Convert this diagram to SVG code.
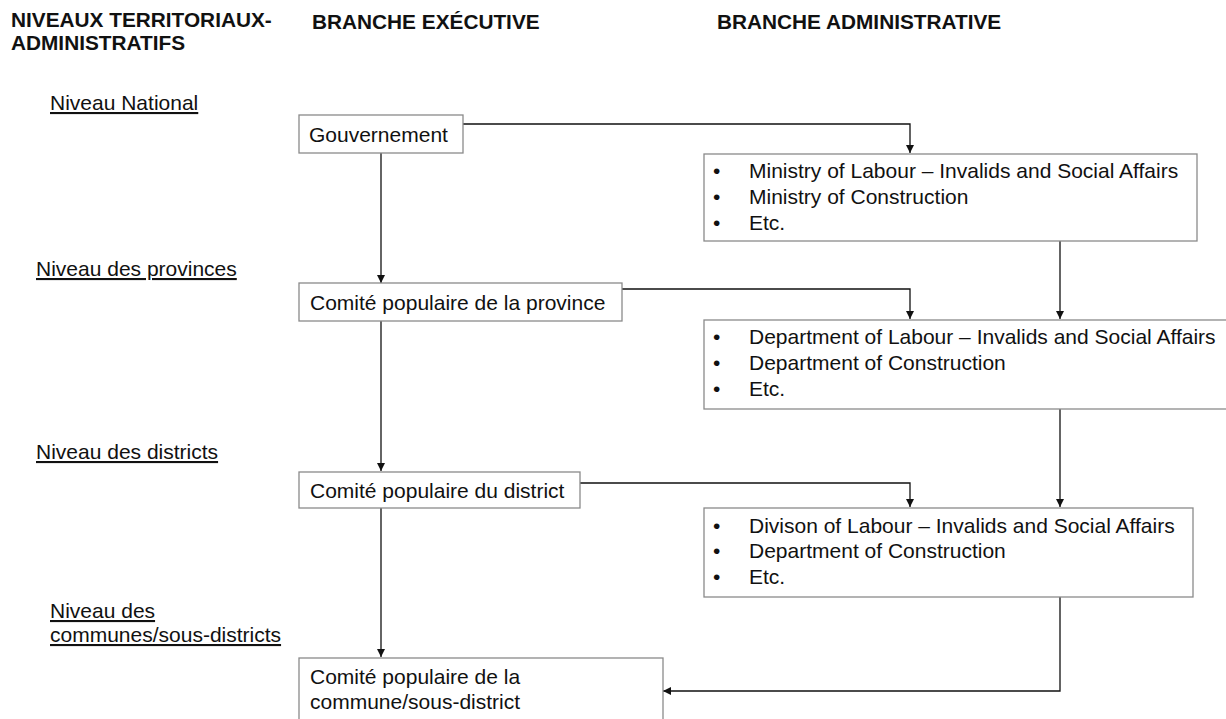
<svg xmlns="http://www.w3.org/2000/svg" width="1226" height="719" viewBox="0 0 1226 719">
<defs>
<style>
text{font-family:"Liberation Sans",Arial,sans-serif;fill:#111;}
.h{font-size:20.8px;font-weight:bold;}
.t{font-size:21px;}
.u{text-decoration:underline;}
.box{fill:#fff;stroke:#8a8a8a;stroke-width:1.3;}
.c{fill:none;stroke:#111;stroke-width:1.3;}
</style>
<marker id="ah" viewBox="0 0 10 10" refX="10" refY="5" markerWidth="8" markerHeight="8" markerUnits="userSpaceOnUse" orient="auto">
<path d="M0,0 L10,5 L0,10 z" fill="#111"/>
</marker>
</defs>
<rect width="1226" height="719" fill="#fff"/>
<g id="headers">
<text class="h" x="11" y="27">NIVEAUX TERRITORIAUX-</text>
<text class="h" x="11" y="50">ADMINISTRATIFS</text>
<text class="h" x="312" y="29">BRANCHE EXÉCUTIVE</text>
<text class="h" x="717" y="29">BRANCHE ADMINISTRATIVE</text>
</g>
<g id="levels">
<text class="t u" x="50" y="110">Niveau National</text>
<text class="t u" x="36" y="276">Niveau des provinces</text>
<text class="t u" x="36" y="459">Niveau des districts</text>
<text class="t u" x="50" y="618">Niveau des</text>
<text class="t u" x="50" y="642">communes/sous-districts</text>
</g>
<g id="connectors">
<path class="c" d="M463,124 H910 V153" marker-end="url(#ah)"/>
<path class="c" d="M381,153 V283" marker-end="url(#ah)"/>
<path class="c" d="M622,289 H910 V319" marker-end="url(#ah)"/>
<path class="c" d="M1060,241 V319" marker-end="url(#ah)"/>
<path class="c" d="M381,321 V471" marker-end="url(#ah)"/>
<path class="c" d="M580,483 H910 V507" marker-end="url(#ah)"/>
<path class="c" d="M1060,409 V507" marker-end="url(#ah)"/>
<path class="c" d="M381,508 V657" marker-end="url(#ah)"/>
<path class="c" d="M1060,597 V691 H663" marker-end="url(#ah)"/>
</g>
<g id="gouvernement">
<rect class="box" x="299" y="115" width="164" height="38"/>
<text class="t" x="309" y="142">Gouvernement</text>
</g>
<g id="ministry">
<rect class="box" x="704" y="154" width="493" height="87"/>
<text class="t" x="713" y="178">•</text>
<text class="t" x="749" y="178">Ministry of Labour – Invalids and Social Affairs</text>
<text class="t" x="713" y="204">•</text>
<text class="t" x="749" y="204">Ministry of Construction</text>
<text class="t" x="713" y="230">•</text>
<text class="t" x="749" y="230">Etc.</text>
</g>
<g id="province">
<rect class="box" x="299" y="283" width="323" height="38"/>
<text class="t" x="310" y="310">Comité populaire de la province</text>
</g>
<g id="department">
<rect class="box" x="704" y="320" width="530" height="89"/>
<text class="t" x="713" y="344">•</text>
<text class="t" x="749" y="344">Department of Labour – Invalids and Social Affairs</text>
<text class="t" x="713" y="370">•</text>
<text class="t" x="749" y="370">Department of Construction</text>
<text class="t" x="713" y="396">•</text>
<text class="t" x="749" y="396">Etc.</text>
</g>
<g id="district">
<rect class="box" x="299" y="472" width="281" height="36"/>
<text class="t" x="310" y="498">Comité populaire du district</text>
</g>
<g id="division">
<rect class="box" x="704" y="508" width="489" height="89"/>
<text class="t" x="713" y="533">•</text>
<text class="t" x="749" y="533">Divison of Labour – Invalids and Social Affairs</text>
<text class="t" x="713" y="558">•</text>
<text class="t" x="749" y="558">Department of Construction</text>
<text class="t" x="713" y="584">•</text>
<text class="t" x="749" y="584">Etc.</text>
</g>
<g id="commune">
<rect class="box" x="299" y="658" width="364" height="80"/>
<text class="t" x="310" y="684">Comité populaire de la</text>
<text class="t" x="310" y="709">commune/sous-district</text>
</g>
</svg>
